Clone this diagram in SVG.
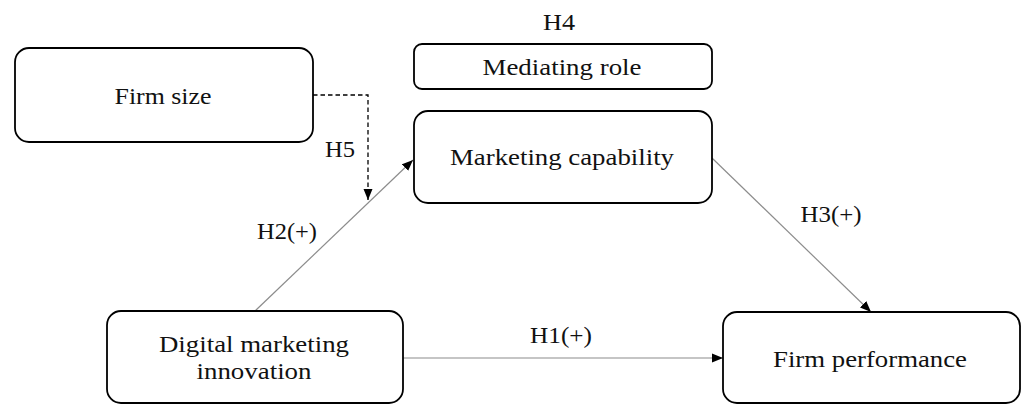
<svg xmlns="http://www.w3.org/2000/svg" width="1022" height="405" viewBox="0 0 1022 405">
<style>
.box{fill:#fff;stroke:#000;stroke-width:1.8}
.t{font-family:"Liberation Serif","Times New Roman",serif;font-size:22.5px;fill:#111;text-anchor:middle}
.c{stroke:#8c8c8c;stroke-width:1.2;fill:none}
.d{stroke:#000;stroke-width:1.3;stroke-dasharray:4.5 3;fill:none}
</style>
<defs>
<marker id="ah" markerUnits="userSpaceOnUse" markerWidth="12" markerHeight="10" refX="11" refY="5" orient="auto">
<path d="M0,0.5 L11,5 L0,9.5 z" fill="#000"/>
</marker>
</defs>
<rect width="1022" height="405" fill="#fff"/>
<g id="connectors">
<path class="d" d="M313,95 H368 V200" marker-end="url(#ah)"/>
<line class="c" x1="255" y1="311" x2="413" y2="160" marker-end="url(#ah)"/>
<line class="c" x1="712" y1="158" x2="871" y2="312" marker-end="url(#ah)"/>
<line class="c" x1="403" y1="358" x2="723" y2="358" marker-end="url(#ah)"/>
<text class="t" x="340" y="157" textLength="30" lengthAdjust="spacingAndGlyphs">H5</text>
<text class="t" x="287" y="239" textLength="60" lengthAdjust="spacingAndGlyphs">H2(+)</text>
<text class="t" x="831" y="222" textLength="61" lengthAdjust="spacingAndGlyphs">H3(+)</text>
<text class="t" x="561" y="343" textLength="62" lengthAdjust="spacingAndGlyphs">H1(+)</text>
</g>
<g id="firm-size">
<rect class="box" x="15" y="48" width="298" height="94" rx="14"/>
<text class="t" x="163" y="104" textLength="97" lengthAdjust="spacingAndGlyphs">Firm size</text>
</g>
<g id="mediating-role">
<text class="t" x="559" y="30" textLength="32" lengthAdjust="spacingAndGlyphs">H4</text>
<rect class="box" x="414" y="44" width="298" height="45" rx="8"/>
<text class="t" x="562" y="75" textLength="159" lengthAdjust="spacingAndGlyphs">Mediating role</text>
</g>
<g id="marketing-capability">
<rect class="box" x="414" y="111" width="298" height="92" rx="14"/>
<text class="t" x="562" y="165" textLength="224" lengthAdjust="spacingAndGlyphs">Marketing capability</text>
</g>
<g id="digital-marketing-innovation">
<rect class="box" x="107" y="311" width="296" height="92" rx="14"/>
<text class="t" x="254" y="352" textLength="190" lengthAdjust="spacingAndGlyphs">Digital marketing</text>
<text class="t" x="254" y="379" textLength="115" lengthAdjust="spacingAndGlyphs">innovation</text>
</g>
<g id="firm-performance">
<rect class="box" x="723" y="312" width="297" height="91" rx="14"/>
<text class="t" x="870" y="367" textLength="194" lengthAdjust="spacingAndGlyphs">Firm performance</text>
</g>
</svg>
